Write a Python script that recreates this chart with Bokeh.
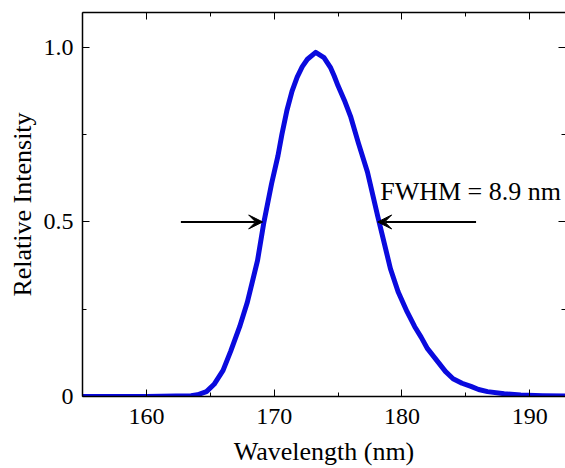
from bokeh.plotting import figure
from bokeh.models import (LinearAxis, FixedTicker, Range1d, Arrow, VeeHead, Label)
from bokeh.embed import file_html
from bokeh.resources import INLINE

# ---- data ----
wavelength = [155.0, 160.0, 163.5, 164.0, 164.7, 165.3, 166.0, 166.6, 167.3, 167.9,
              168.3, 168.7, 169.2, 169.8, 170.3, 170.6, 171.0, 171.4, 171.8, 172.2,
              172.6, 173.25, 173.9, 174.4, 174.7, 175.0, 175.5, 176.0, 176.6, 177.3,
              178.1, 179.1, 179.7, 180.4, 181.0, 181.5, 182.0, 182.8, 183.4, 184.0,
              184.7, 185.4, 186.0, 186.7, 188.0, 189.3, 191.0, 193.0]
intensity = [0.0, 0.0, 0.002, 0.005, 0.014, 0.035, 0.075, 0.13, 0.20, 0.27,
             0.33, 0.39, 0.50, 0.61, 0.69, 0.75, 0.82, 0.875, 0.915, 0.945,
             0.966, 0.986, 0.971, 0.943, 0.918, 0.89, 0.848, 0.80, 0.725, 0.643,
             0.517, 0.366, 0.30, 0.243, 0.20, 0.170, 0.137, 0.100, 0.072, 0.051,
             0.038, 0.029, 0.020, 0.014, 0.008, 0.004, 0.002, 0.001]

x_major = [160, 170, 180, 190]
x_minor = [155, 165, 175, 185]
y_major = [0, 0.5, 1.0]
y_minor = [0.25, 0.75]
y_labels = {0: "0", 0.5: "0.5", 1: "1.0"}

half_max = 0.5
left_arrow = (162.7, 169.1)   # tail, head
right_arrow = (185.8, 178.1)  # tail, head
fwhm_text = "FWHM = 8.9 nm"
fwhm_pos = (178.3, 0.586)

FONT = "Liberation Serif"

p = figure(width=565, height=468, output_backend="svg", toolbar_location=None,
           x_range=Range1d(155, 192.8), y_range=Range1d(0, 1.1),
           x_axis_location=None, y_axis_location=None,
           min_border_left=82, min_border_right=0, min_border_top=12,
           min_border_bottom=70)
p.outline_line_color = None
p.grid.visible = False
p.background_fill_color = "white"
p.border_fill_color = "white"


def style(ax, ticks, minor, show_labels, line=True):
    ax.ticker = FixedTicker(ticks=ticks, minor_ticks=minor)
    ax.major_tick_in = 7
    ax.major_tick_out = 0
    ax.minor_tick_in = 4
    ax.minor_tick_out = 0
    ax.major_tick_line_color = "black"
    ax.minor_tick_line_color = "black"
    ax.major_tick_line_width = 1
    ax.axis_line_color = "black" if line else None
    ax.axis_line_width = 1.5
    if show_labels:
        ax.major_label_text_font = FONT
        ax.major_label_text_font_size = "24px"
        ax.major_label_text_color = "black"
        ax.axis_label_text_font = FONT
        ax.axis_label_text_font_size = "26px"
        ax.axis_label_text_font_style = "normal"
        ax.axis_label_text_color = "black"
    else:
        ax.major_label_overrides = {t: "" for t in ticks}
        ax.major_label_text_font_size = "0px"
        ax.major_label_standoff = 0
        ax.axis_label = None


xb = LinearAxis(axis_label="Wavelength (nm)")
style(xb, x_major, x_minor, True)
xb.major_label_standoff = 12
xb.axis_label_standoff = 10
p.add_layout(xb, "below")

yl = LinearAxis(axis_label="Relative Intensity")
style(yl, y_major, y_minor, True)
yl.major_label_overrides = y_labels
yl.major_label_standoff = 9
yl.axis_label_standoff = 4
p.add_layout(yl, "left")

xt = LinearAxis()
style(xt, x_major, x_minor, False)
p.add_layout(xt, "above")

yr = LinearAxis()
style(yr, y_major, y_minor, False, line=False)
p.add_layout(yr, "right")

p.line(wavelength, intensity, line_color="#0a0ade", line_width=5, line_join="round")

for tail, head in (left_arrow, right_arrow):
    p.add_layout(Arrow(end=VeeHead(size=14, fill_color="black", line_color="black"),
                       x_start=tail, y_start=half_max, x_end=head, y_end=half_max,
                       line_color="black", line_width=2))

p.add_layout(Label(x=fwhm_pos[0], y=fwhm_pos[1], text=fwhm_text,
                   text_font=FONT, text_font_size="26px", text_color="black",
                   text_baseline="alphabetic"))

open("out.html", "w").write(file_html(p, INLINE))
